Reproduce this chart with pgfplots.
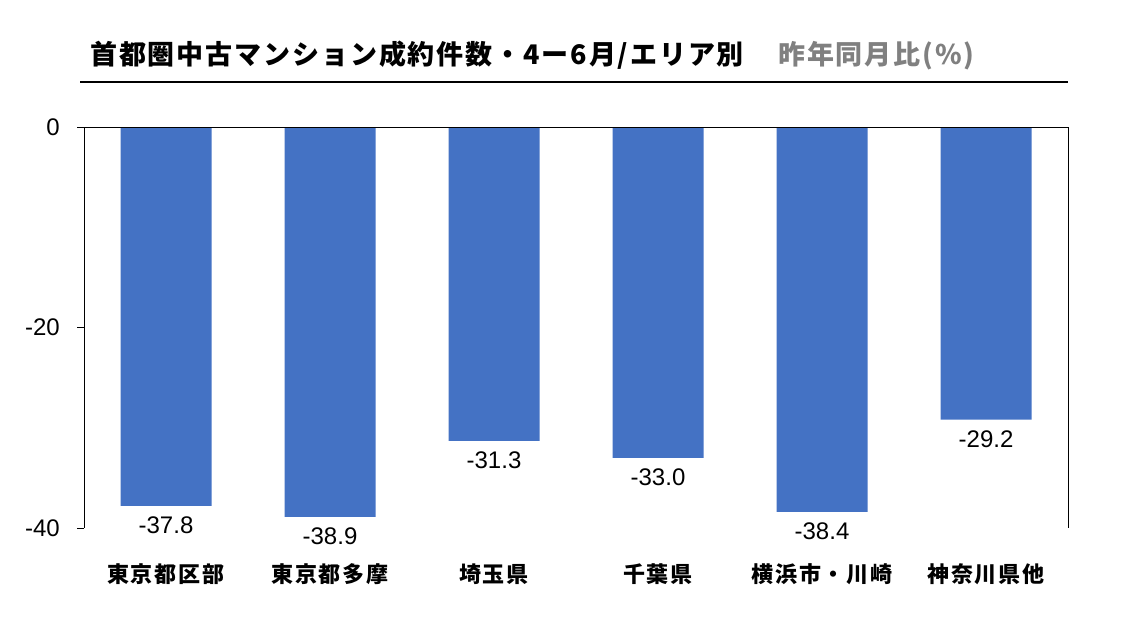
\documentclass[border=0pt]{standalone}
\usepackage{fontspec}
\setmainfont{Liberation Sans}
\newfontfamily\jpt{Noto Sans CJK JP}[LetterSpace=7]
\newfontfamily\jpc{Noto Sans CJK JP}[LetterSpace=9]
\usepackage{pgfplots}
\pgfplotsset{compat=1.18}
\definecolor{barblue}{HTML}{4472C4}
\definecolor{titlegray}{HTML}{808080}
\begin{document}
\begin{tikzpicture}[x=1pt,y=1pt]
\path[use as bounding box] (0,0) rectangle (1131,-636);
\node[anchor=base west, inner sep=0] at (90,-65) {\jpt\bfseries\fontsize{27}{32}\selectfont 首都圏中古マンション成約件数・4ー6月/エリア別};
\node[anchor=base west, inner sep=0, text=titlegray] at (778,-65) {\jpt\bfseries\fontsize{27}{32}\selectfont 昨年同月比(\%)};
\draw[line width=2.5pt] (80,-82) -- (1068,-82);
\begin{axis}[
  at={(84pt,-528pt)}, anchor=south west,
  scale only axis, width=984pt, height=401pt,
  xmin=-0.5, xmax=5.5, ymin=-40, ymax=0,
  ybar, bar width=91pt,
  axis x line*=bottom, axis y line*=left,
  x axis line style={draw=none},
  y axis line style={line width=1pt},
  xtick={0,...,5}, xtick style={draw=none},
  xticklabels={東京都区部, 東京都多摩, 埼玉県, 千葉県, 横浜市・川崎, 神奈川県他},
  xticklabel style={font=\jpc\bfseries\fontsize{22}{26}\selectfont, anchor=base, inner sep=0pt, yshift=-47pt},
  ytick={-40,-20,0}, tick align=outside, major tick length=7pt,
  ytick style={line width=1pt, black},
  yticklabel style={font=\fontsize{24}{28}\selectfont, anchor=east, inner sep=0pt, xshift=-17pt},
  /pgf/number format/assume math mode=true,
  nodes near coords,
  nodes near coords style={font=\fontsize{24}{28}\selectfont, anchor=north, inner sep=0pt, yshift=-11pt,
    /pgf/number format/.cd, fixed, fixed zerofill, precision=1, assume math mode=true},
  clip=false,
]
\addplot[fill=barblue, draw=none] coordinates {(0,-37.8) (1,-38.9) (2,-31.3) (3,-33.0) (4,-38.4) (5,-29.2)};
\draw[line width=1pt] (rel axis cs:0,1) -- (rel axis cs:1,1) -- (rel axis cs:1,0);
\end{axis}
\end{tikzpicture}
\end{document}
